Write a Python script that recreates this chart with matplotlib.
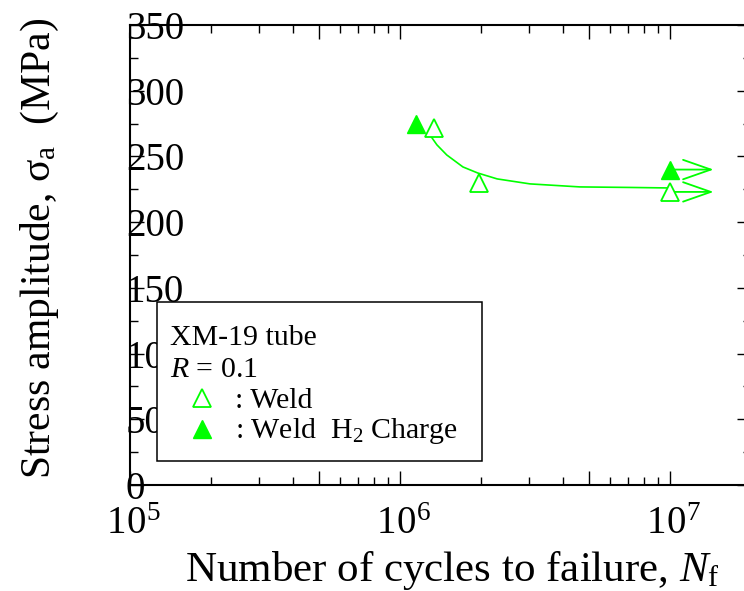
import matplotlib
matplotlib.use("Agg")
import matplotlib.pyplot as plt
import matplotlib.patches as patches
from matplotlib.ticker import FixedLocator, FixedFormatter, LogLocator, MultipleLocator, NullFormatter

plt.rcParams['font.family'] = ['Liberation Serif', 'DejaVu Serif']
plt.rcParams['mathtext.fontset'] = 'custom'
plt.rcParams['mathtext.rm'] = 'Liberation Serif'
plt.rcParams['mathtext.it'] = 'Liberation Serif:italic'

# --- данные ---
weld_n = [1.34e6, 1.96e6, 1.0e7]
weld_s = [272, 230, 223]
weld_runout = [False, False, True]

h2_n = [1.15e6, 1.0e7]
h2_s = [275, 240]
h2_runout = [False, True]

# аппроксимирующая кривая (точки)
fit_n = [1.29e6, 1.37e6, 1.49e6, 1.71e6, 1.94e6, 2.29e6, 3.03e6, 4.64e6, 7.11e6, 1.0e7]
fit_s = [266.4, 258.8, 251.1, 242.0, 237.4, 232.9, 229.1, 226.8, 226.4, 226.0]

x_ticks = [1e5, 5e5, 1e6, 5e6, 1e7]
x_tick_labels = [r'$\;10^{5}$', '', r'$\;10^{6}$', '', r'$\;10^{7}$']

green = '#00ff00'

fig = plt.figure(figsize=(7.44, 5.91), dpi=100)
ax = fig.add_axes([130 / 744, 106 / 591, 621.3 / 744, 460 / 591])

ax.set_xscale('log')
ax.set_xlim(1e5, 2e7)
ax.set_ylim(0, 350)

# кривая
ax.plot(fit_n, fit_s, color=green, lw=1.2, zorder=2)

# точки
ax.plot(weld_n, weld_s, ls='none', marker='^', ms=13, mfc='white', mec=green, mew=1.3, zorder=3)
ax.plot(h2_n, h2_s, ls='none', marker='^', ms=13, mfc=green, mec=green, mew=1.0, zorder=4)

# стрелки для неразрушившихся образцов
arrow_end = 1.45e7
for n, s, r in list(zip(weld_n, weld_s, weld_runout)) + list(zip(h2_n, h2_s, h2_runout)):
    if r:
        ax.annotate('', xy=(arrow_end, s), xytext=(n, s),
                    arrowprops=dict(arrowstyle='->,head_length=1.0,head_width=0.35',
                                    color=green, lw=1.3, mutation_scale=20,
                                    shrinkA=0, shrinkB=0),
                    zorder=2)

# оси
ax.xaxis.set_major_locator(FixedLocator(x_ticks))
ax.xaxis.set_major_formatter(FixedFormatter(x_tick_labels))
ax.xaxis.set_minor_locator(LogLocator(base=10, subs=(2, 3, 4, 6, 7, 8, 9)))
ax.xaxis.set_minor_formatter(NullFormatter())
ax.yaxis.set_major_locator(MultipleLocator(50))
ax.yaxis.set_minor_locator(MultipleLocator(25))

ax.tick_params(which='both', direction='in', top=True, right=True, width=1.0)
ax.tick_params(which='major', length=10)
ax.tick_params(which='minor', length=5.8)
ax.tick_params(axis='x', which='major', labelsize=28, pad=15)
ax.tick_params(axis='y', which='major', labelsize=28, pad=3)
for lab in ax.get_yticklabels():
    lab.set_horizontalalignment('left')
for sp in ax.spines.values():
    sp.set_linewidth(1.5)

fig.text(452 / 744, 1 - 571 / 591, r'Number of cycles to failure, $N_{\rm f}$',
         fontsize=31, ha='center', va='center')
fig.text(40 / 744, 1 - 248 / 591, r'Stress amplitude, σ$_{\rm a}$  (MPa)',
         fontsize=30, ha='center', va='center', rotation=90)

# рамка с подписями
box = patches.Rectangle((0.0435, 0.0522), 0.523, 0.3457, transform=ax.transAxes,
                        facecolor='white', edgecolor='black', lw=1.1, zorder=5)
ax.add_patch(box)
ax.text(0.0644, 0.3043, 'XM-19 tube', transform=ax.transAxes, fontsize=21.5,
        va='baseline', zorder=6)
ax.text(0.0644, 0.2348, r'$R$ = 0.1', transform=ax.transAxes, fontsize=21.5,
        va='baseline', zorder=6)
ax.plot([0.1159], [0.189], transform=ax.transAxes, marker='^', ms=13, mfc='white',
        mec=green, mew=1.3, zorder=6, clip_on=False)
ax.plot([0.1159], [0.1217], transform=ax.transAxes, marker='^', ms=13, mfc=green,
        mec=green, zorder=6, clip_on=False)
ax.text(0.169, 0.1674, ': Weld', transform=ax.transAxes, fontsize=21.5,
        va='baseline', zorder=6)
ax.text(0.169, 0.1022, r': Weld  H$_{2}$ Charge', transform=ax.transAxes, fontsize=21.5,
        va='baseline', zorder=6)

fig.savefig('out.png', dpi=100)
